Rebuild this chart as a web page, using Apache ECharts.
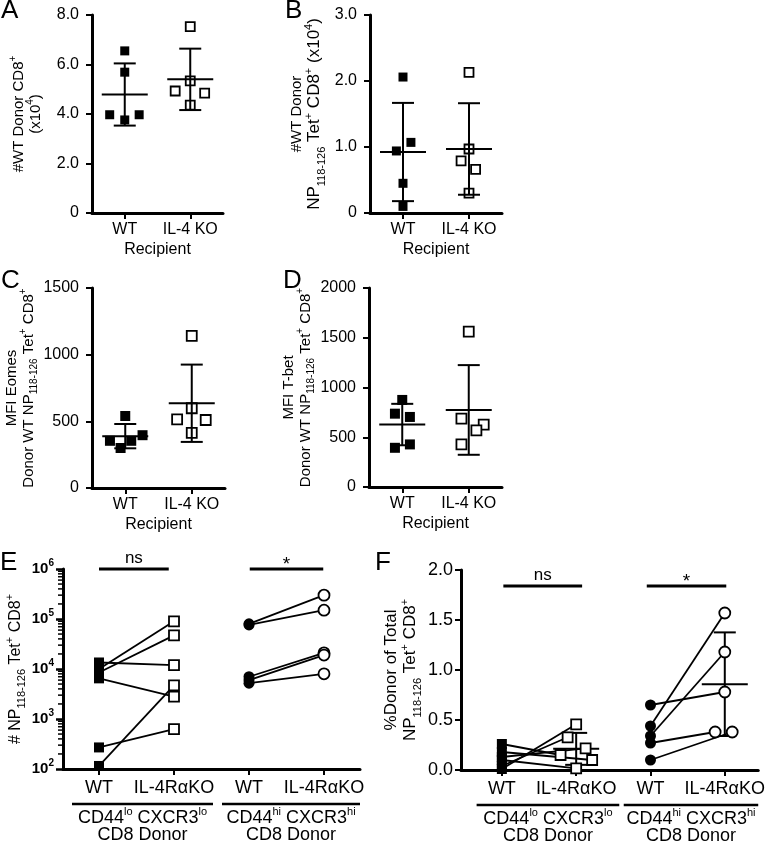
<!DOCTYPE html>
<html><head><meta charset="utf-8">
<script src="https://cdn.jsdelivr.net/npm/echarts@6/dist/echarts.min.js"></script>
<style>html,body{margin:0;padding:0;background:#fff}#c{width:768px;height:845px}</style>
</head><body><div id="c"></div><script>
// ---------------- data ----------------
const recipientCats = ['WT', 'IL-4 KO'];
const donorCats = ['WT', 'IL-4R\u03b1KO', 'WT', 'IL-4R\u03b1KO'];
const groupLabels = ['{t|CD44}{s|lo}{t| CXCR3}{s|lo}\n{t|CD8 Donor}', '{t|CD44}{s|hi}{t| CXCR3}{s|hi}\n{t|CD8 Donor}'];
const sigLabels = ['ns', '*'];

const aWT = [6.55, 5.69, 3.97, 3.76, 3.97];
const aKO = [7.53, 5.34, 4.93, 4.84, 4.36];
const aWTjit = [0, 0, -0.23, 0, 0.22];
const aKOjit = [0, 0, -0.23, 0.22, 0];

const bWT = [2.06, 1.07, 0.94, 0.45, 0.10];
const bKO = [2.13, 0.97, 0.79, 0.66, 0.30];
const bWTjit = [0, 0.12, -0.1, 0, 0];
const bKOjit = [0, 0, -0.12, 0.1, 0];

const cWT = [540, 354, 354, 396, 300];
const cKO = [1141, 598, 515, 510, 414];
const cWTjit = [0, -0.23, 0.09, 0.26, -0.07];
const cKOjit = [0, 0, -0.22, 0.21, 0];

const dWT = [875, 737, 704, 394, 428];
const dKO = [1562, 687, 626, 569, 428];
const dWTjit = [0, -0.11, 0.115, -0.11, 0.115];
const dKOjit = [0, -0.11, 0.225, 0.115, -0.11];

const eLoWT = [10000, 8500, 13500, 6500, 270, 115];
const eLoKO = [90000, 47000, 12000, 2800, 630, 4700];
const eHiWT = [80000, 76000, 7000, 6000, 5200];
const eHiKO = [300000, 150000, 21000, 19000, 8000];

const fLoWT = [0.01, 0.04, 0.13, 0.26, 0.18, 0.10];
const fLoKO = [0.457, 0.327, 0.217, 0.15, 0.10, 0.017];
const fLoKOjit = [0, -0.115, 0.127, -0.21, 0.215, 0];
const fHiWT = [0.65, 0.44, 0.34, 0.27, 0.10];
const fHiKO = [0.78, 1.57, 1.18, 0.38, 0.38];
const fHiKOjit = [0, 0, 0, -0.13, 0.1];

// annotation spans (x in axis units): [x1, x2, yValue, labelIndex]
const eSig = [[1.0, 1.93, 1e6, 0], [3.01, 3.99, 1e6, 1]];
const fSig = [[1.02, 2.08, 1.84, 0], [2.95, 4.02, 1.84, 1]];
const eGroups = [[0.64, 2.52, 100, 0], [2.64, 4.48, 100, 1]];
const fGroups = [[0.66, 2.58, 0, 0], [2.64, 4.45, 0, 1]];

// ---------------- helpers ----------------
const FF = '"Liberation Sans", Arial, Helvetica, sans-serif';
const K = '#000';
const E_XMIN = 0.52, E_XMAX = 4.48, F_XMIN = 0.45, F_XMAX = 4.45;

function richSet(fs, fs2) {
  fs2 = fs2 || fs;
  const small = Math.round(fs * 0.66);
  const small2 = Math.round(fs2 * 0.66);
  return {
    t: {fontSize: fs, fontFamily: FF, color: K, lineHeight: fs + 2},
    sup: {fontSize: small, fontFamily: FF, color: K, verticalAlign: 'top', height: 7, lineHeight: 7},
    sub: {fontSize: small, fontFamily: FF, color: K, verticalAlign: 'bottom', height: 5, lineHeight: 5},
    u: {fontSize: fs2, fontFamily: FF, color: K, lineHeight: fs2 + 2},
    usup: {fontSize: small2, fontFamily: FF, color: K, verticalAlign: 'top', height: 7, lineHeight: 7},
    usub: {fontSize: small2, fontFamily: FF, color: K, verticalAlign: 'bottom', height: 5, lineHeight: 5}
  };
}
function yVal(gi, min, max, interval, fmt, name, gap, tfs, lfs, margin, tfs2) {
  return {
    gridIndex: gi, type: 'value', min, max, interval,
    axisLine: {show: true, onZero: false, lineStyle: {color: K, width: 3}},
    axisTick: {show: true, length: 6, lineStyle: {color: K, width: 2}},
    axisLabel: {formatter: fmt, margin: margin, fontSize: lfs, fontFamily: FF, color: K},
    splitLine: {show: false},
    name, nameLocation: 'middle', nameRotate: 90, nameGap: gap,
    nameTextStyle: {rich: richSet(tfs, tfs2), fontFamily: FF, color: K, fontSize: tfs, lineHeight: tfs + 2}
  };
}
function xVal(gi, min, max, cats, fs, name, margin) {
  const vals = cats.map((c, i) => i + 1);
  return {
    gridIndex: gi, type: 'value', min, max,
    axisLine: {show: true, onZero: false, lineStyle: {color: K, width: 3}},
    axisTick: {show: true, customValues: vals, length: 6, lineStyle: {color: K, width: 2}},
    axisLabel: {customValues: vals, formatter: v => cats[Math.round(v) - 1] || '', margin: margin,
      fontSize: fs, fontFamily: FF, color: K},
    splitLine: {show: false},
    name: name || '', nameLocation: 'middle', nameGap: 29,
    nameTextStyle: {fontSize: 16, fontFamily: FF, color: K}
  };
}
function pts(ai, xc, vals, jit, symbol, size, filled) {
  return {type: 'scatter', xAxisIndex: ai, yAxisIndex: ai, symbol, symbolSize: size, silent: true, z: 3,
    data: vals.map((v, i) => [xc + (jit ? jit[i] : 0), v]),
    itemStyle: filled ? {color: K, opacity: 1} : {color: '#fff', borderColor: K, borderWidth: 1.8, opacity: 1}};
}
function meanSd(a) {
  const m = a.reduce((s, v) => s + v, 0) / a.length;
  const sd = Math.sqrt(a.reduce((s, v) => s + (v - m) * (v - m), 0) / (a.length - 1));
  return [m, sd];
}
function errBars(ai, groups, z) {
  return {type: 'custom', xAxisIndex: ai, yAxisIndex: ai, clip: false, z: z, silent: true,
    data: groups.map(g => { const ms = meanSd(g[1]); return [g[0], ms[0], ms[1]]; }),
    encode: {x: 0, y: 1},
    renderItem(params, api) {
      const x = api.value(0), m = api.value(1), s = api.value(2);
      const pm = api.coord([x, m]), pt = api.coord([x, m + s]), pb = api.coord([x, m - s]);
      const st = {stroke: K, lineWidth: 2};
      return {type: 'group', children: [
        {type: 'line', shape: {x1: pm[0], y1: pt[1], x2: pm[0], y2: pb[1]}, style: st},
        {type: 'line', shape: {x1: pm[0] - 11, y1: pt[1], x2: pm[0] + 11, y2: pt[1]}, style: st},
        {type: 'line', shape: {x1: pm[0] - 11, y1: pb[1], x2: pm[0] + 11, y2: pb[1]}, style: st},
        {type: 'line', shape: {x1: pm[0] - 23, y1: pm[1], x2: pm[0] + 23, y2: pm[1]}, style: st}
      ]};
    }};
}
function pairLines(ai, x1, x2, a, b, jitB) {
  return a.map((v, i) => ({type: 'line', xAxisIndex: ai, yAxisIndex: ai, symbol: 'none', silent: true, z: 2,
    lineStyle: {color: K, width: 1.8}, data: [[x1, v], [x2 + (jitB ? jitB[i] : 0), b[i]]]}));
}
function sigSeries(ai, rows) {
  return {type: 'custom', xAxisIndex: ai, yAxisIndex: ai, clip: false, silent: true, z: 5,
    data: rows, encode: {x: [0, 1], y: 2},
    renderItem(params, api) {
      const p1 = api.coord([api.value(0), api.value(2)]);
      const p2 = api.coord([api.value(1), api.value(2)]);
      const idx = api.value(3);
      const dy = idx === 0 ? 11 : 4;
      return {type: 'group', children: [
        {type: 'line', shape: {x1: p1[0], y1: p1[1], x2: p2[0], y2: p1[1]}, style: {stroke: K, lineWidth: 3}},
        {type: 'text', x: (p1[0] + p2[0]) / 2, y: p1[1] - dy,
          style: {text: sigLabels[idx], fontSize: idx === 0 ? 17 : 19, fontFamily: FF, fill: K,
            align: 'center', textAlign: 'center', verticalAlign: 'middle', textVerticalAlign: 'middle'}}
      ]};
    }};
}
function groupSeries(ai, rows) {
  return {type: 'custom', xAxisIndex: ai, yAxisIndex: ai, clip: false, silent: true, z: 5,
    data: rows, encode: {x: [0, 1], y: 2},
    renderItem(params, api) {
      const p1 = api.coord([api.value(0), api.value(2)]);
      const p2 = api.coord([api.value(1), api.value(2)]);
      const idx = api.value(3);
      return {type: 'group', children: [
        {type: 'line', shape: {x1: p1[0], y1: p1[1] + 35, x2: p2[0], y2: p1[1] + 35}, style: {stroke: K, lineWidth: 2.5}},
        {type: 'text', x: (p1[0] + p2[0]) / 2, y: p1[1] + 40,
          style: {text: groupLabels[idx], fontSize: 18, fontFamily: FF, fill: K, lineHeight: 17.5,
            align: 'center', textAlign: 'center', verticalAlign: 'top', textVerticalAlign: 'top',
            rich: {t: {fontSize: 18, fontFamily: FF, color: K, lineHeight: 17.5},
                   s: {fontSize: 11, fontFamily: FF, color: K, verticalAlign: 'top', height: 5, lineHeight: 5}}}}
      ]};
    }};
}

// E minor ticks (log axis)
const eMinor = [];
for (let n = 2; n < 6; n++) for (let k = 2; k < 10; k++) eMinor.push([E_XMIN, k * Math.pow(10, n)]);

const fmt1 = v => (v === 0 ? '0' : v.toFixed(1));
const fmtInt = v => String(v);
const fmtF = v => v.toFixed(1);

const titleA = '{t|#WT Donor CD8}{sup|+}\n{t|(x10}{sup|4}{t|)}';
const titleB = '{t|#WT Donor}\n{u|NP}{usub|118-126}{u| Tet}{usup|+}{u| CD8}{usup|+}{u| (x10}{usup|4}{u|)}';
const titleC = '{t|MFI Eomes}\n{t|Donor WT NP}{sub|118-126}{t| Tet}{sup|+}{t| CD8}{sup|+}';
const titleD = '{t|MFI T-bet}\n{t|Donor WT NP}{sub|118-126}{t| Tet}{sup|+}{t| CD8}{sup|+}';
const titleE = '{t|# NP}{sub|118-126}{t| Tet}{sup|+}{t| CD8}{sup|+}';
const titleF = '{t|%Donor of Total}\n{t|NP}{sub|118-126}{t| Tet}{sup|+}{t| CD8}{sup|+}';

const eY = yVal(4, 100, 1e6, null, null, titleE, 37, 16, 15, 9);
eY.type = 'log'; eY.logBase = 10; delete eY.interval;
eY.axisTick = {show: true, length: 7, lineStyle: {color: K, width: 2.5}};
eY.axisLabel = {margin: 9, formatter: v => '{b|10}{s|' + Math.round(Math.log10(v)) + '}',
  rich: {b: {fontSize: 15, fontWeight: 'bold', fontFamily: FF, color: K, lineHeight: 16},
         s: {fontSize: 10, fontWeight: 'bold', fontFamily: FF, color: K, verticalAlign: 'top', height: 5, lineHeight: 5}}};

const series = [].concat(
  // A
  pts(0, 1, aWT, aWTjit, 'rect', 9, true), pts(0, 2, aKO, aKOjit, 'rect', 9, false),
  errBars(0, [[1, aWT], [2, aKO]], 4),
  // B
  pts(1, 1, bWT, bWTjit, 'rect', 9, true), pts(1, 2, bKO, bKOjit, 'rect', 9, false),
  errBars(1, [[1, bWT], [2, bKO]], 4),
  // C
  pts(2, 1, cWT, cWTjit, 'rect', 10, true), pts(2, 2, cKO, cKOjit, 'rect', 10, false),
  errBars(2, [[1, cWT], [2, cKO]], 4),
  // D
  pts(3, 1, dWT, dWTjit, 'rect', 10, true), pts(3, 2, dKO, dKOjit, 'rect', 10, false),
  errBars(3, [[1, dWT], [2, dKO]], 4),
  // E
  pairLines(4, 1, 2, eLoWT, eLoKO, null), pairLines(4, 3, 4, eHiWT, eHiKO, null),
  pts(4, 1, eLoWT, null, 'rect', 10, true), pts(4, 2, eLoKO, null, 'rect', 10, false),
  pts(4, 3, eHiWT, null, 'circle', 11, true), pts(4, 4, eHiKO, null, 'circle', 11, false),
  sigSeries(4, eSig), groupSeries(4, eGroups),
  {type: 'custom', xAxisIndex: 4, yAxisIndex: 4, clip: false, silent: true, z: 5, data: eMinor, encode: {x: 0, y: 1},
    renderItem(params, api) {
      const p = api.coord([api.value(0), api.value(1)]);
      return {type: 'line', shape: {x1: p[0] - 5, y1: p[1], x2: p[0], y2: p[1]}, style: {stroke: K, lineWidth: 1.5}};
    }},
  // F
  pairLines(5, 1, 2, fLoWT, fLoKO, fLoKOjit), pairLines(5, 3, 4, fHiWT, fHiKO, fHiKOjit),
  errBars(5, [[2, fLoKO], [4, fHiKO]], 2.5),
  pts(5, 1, fLoWT, null, 'rect', 10, true), pts(5, 2, fLoKO, fLoKOjit, 'rect', 10, false),
  pts(5, 3, fHiWT, null, 'circle', 11, true), pts(5, 4, fHiKO, fHiKOjit, 'circle', 11, false),
  sigSeries(5, fSig), groupSeries(5, fGroups)
);

const letter = (t, x, y) => ({type: 'text', left: x, top: y, silent: true,
  style: {text: t, fontSize: 26, fontFamily: FF, fill: K}});

const option = {
  animation: false,
  backgroundColor: '#fff',
  grid: [
    {left: 92, top: 15, width: 131, height: 198},
    {left: 370, top: 15, width: 132, height: 198},
    {left: 92, top: 288, width: 133, height: 200},
    {left: 369, top: 288, width: 133, height: 199},
    {left: 63, top: 569, width: 297, height: 200},
    {left: 461, top: 570, width: 303, height: 200}
  ],
  xAxis: [
    xVal(0, 0.5, 2.5, recipientCats, 16, 'Recipient', 9),
    xVal(1, 0.5, 2.5, recipientCats, 16, 'Recipient', 9),
    xVal(2, 0.5, 2.5, recipientCats, 16, 'Recipient', 9),
    xVal(3, 0.5, 2.5, recipientCats, 16, 'Recipient', 9),
    xVal(4, E_XMIN, E_XMAX, donorCats, 18, '', 10),
    xVal(5, F_XMIN, F_XMAX, donorCats, 18, '', 10)
  ],
  yAxis: [
    yVal(0, 0, 8, 2, fmt1, titleA, 48, 15, 16, 13),
    yVal(1, 0, 3, 1, fmt1, titleB, 46, 15, 16, 13, 17),
    yVal(2, 0, 1500, 500, fmtInt, titleC, 53, 15, 16, 13),
    yVal(3, 0, 2000, 500, fmtInt, titleD, 50, 15, 16, 13),
    eY,
    yVal(5, 0, 2, 0.5, fmtF, titleF, 41, 17, 18, 8)
  ],
  graphic: [letter('A', 1, -2), letter('B', 285, -2), letter('C', 1, 268), letter('D', 283, 268),
            letter('E', 0, 550), letter('F', 375, 550)],
  series: series
};

const chart = echarts.init(document.getElementById('c'), null, {renderer: 'canvas'});
chart.setOption(option);
</script></body></html>
